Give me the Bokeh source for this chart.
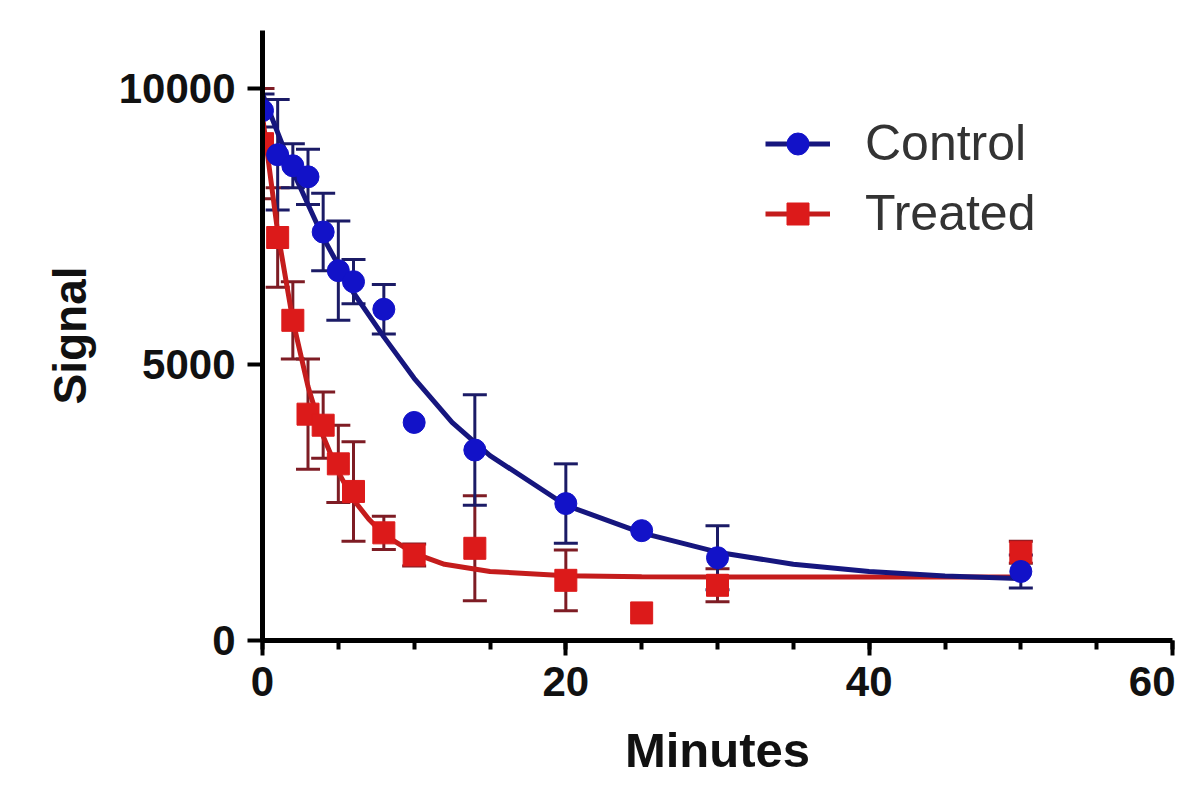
from bokeh.plotting import figure
from bokeh.models import (ColumnDataSource, Whisker, TeeHead, Legend, LegendItem,
                          SingleIntervalTicker, Range1d)
from bokeh.embed import file_html
from bokeh.resources import INLINE

# ---- data ----
minutes = [0, 1, 2, 3, 4, 5, 6, 8, 10, 14, 20, 25, 30, 50]
control_mean = [9600, 8800, 8600, 8400, 7400, 6700, 6500, 6000, 3950, 3450, 2480, 1990, 1500, 1250]
control_err = [300, 1000, 400, 500, 700, 900, 400, 450, 0, 1000, 720, 0, 580, 300]
treated_mean = [9000, 7300, 5800, 4100, 3900, 3200, 2700, 1950, 1550, 1670, 1090, 500, 1000, 1600]
treated_err = [1000, 900, 700, 1000, 600, 700, 900, 300, 200, 950, 550, 0, 300, 200]

control_fit_t = [0, 2, 4, 6, 8, 10, 12.5, 15, 20, 25, 30, 35, 40, 45, 50]
control_fit = [9900, 8500, 7300, 6300, 5500, 4750, 3950, 3350, 2450, 1950, 1600, 1380, 1250, 1170, 1120]
treated_fit_t = [0, 1, 2, 3, 4, 5, 6, 7, 8, 10, 12, 15, 20, 25, 30, 40, 50]
treated_fit = [9500, 7400, 5800, 4600, 3700, 3050, 2550, 2200, 1920, 1580, 1380, 1250, 1175, 1155, 1150, 1150, 1150]

x_label = "Minutes"
y_label = "Signal"
series_names = ["Control", "Treated"]

# ---- colours ----
C_LINE = "#16167e"
C_MARK = "#1212c8"
C_ERR = "#1b1b66"
T_LINE = "#c41c1c"
T_MARK = "#dc1a1a"
T_ERR = "#7e1c24"
FONT = "Liberation Sans"

p = figure(width=1175, height=780, output_backend="svg", toolbar_location=None,
           x_range=Range1d(0, 60), y_range=Range1d(0, 11050),
           min_border_left=262, min_border_right=3, min_border_top=30, min_border_bottom=140)
p.grid.visible = False
p.outline_line_color = None
p.background_fill_color = "white"
p.border_fill_color = "white"

# curves
t_line = p.line(treated_fit_t, treated_fit, line_color=T_LINE, line_width=5)
c_line = p.line(control_fit_t, control_fit, line_color=C_LINE, line_width=5)

def err_source(xs, ms, es):
    xx, up, lo = [], [], []
    for x, m, e in zip(xs, ms, es):
        if e > 0:
            xx.append(x); up.append(m + e); lo.append(m - e)
    return ColumnDataSource(dict(x=xx, upper=up, lower=lo))

for xs, ms, es, col in [(minutes, treated_mean, treated_err, T_ERR),
                        (minutes, control_mean, control_err, C_ERR)]:
    w = Whisker(source=err_source(xs, ms, es), base="x", upper="upper", lower="lower",
                dimension="height", line_color=col, line_width=3,
                upper_head=TeeHead(size=24, line_color=col, line_width=3),
                lower_head=TeeHead(size=24, line_color=col, line_width=3))
    p.add_layout(w)

t_pts = p.scatter(minutes, treated_mean, marker="square", size=22,
                  fill_color=T_MARK, line_color=T_MARK)
c_pts = p.scatter(minutes, control_mean, marker="circle", size=22,
                  fill_color=C_MARK, line_color=C_MARK)

# axes
xa = p.xaxis[0]
xa.ticker = SingleIntervalTicker(interval=20, num_minor_ticks=4)
ya = p.yaxis[0]
ya.ticker = SingleIntervalTicker(interval=5000, num_minor_ticks=0)
for ax in (xa, ya):
    ax.axis_line_width = 5
    ax.axis_line_color = "#000000"
    ax.major_tick_line_width = 4
    ax.major_tick_line_color = "#000000"
    ax.major_tick_out = 15
    ax.major_tick_in = 0
    ax.minor_tick_line_width = 4
    ax.minor_tick_line_color = "#000000"
    ax.minor_tick_out = 9
    ax.minor_tick_in = 0
    ax.major_label_text_font = FONT
    ax.major_label_text_font_size = "42px"
    ax.major_label_text_font_style = "bold"
    ax.major_label_text_color = "#111111"
    ax.axis_label_text_font = FONT
    ax.axis_label_text_font_style = "bold"
    ax.axis_label_text_color = "#111111"
xa.axis_label = x_label
ya.axis_label = y_label
xa.axis_label_text_font_size = "49px"
ya.axis_label_text_font_size = "46px"
xa.major_label_standoff = 11
ya.major_label_standoff = 12
xa.axis_label_standoff = 24
ya.axis_label_standoff = 20

legend = Legend(items=[LegendItem(label=series_names[0], renderers=[c_line, c_pts]),
                       LegendItem(label=series_names[1], renderers=[t_line, t_pts])],
                location=(503, 398), glyph_width=65, glyph_height=55, label_height=55,
                spacing=12, padding=5, margin=0, label_standoff=35,
                label_text_font=FONT, label_text_font_size="50px", label_text_color="#333333",
                border_line_color=None, background_fill_alpha=0)
p.add_layout(legend)

open("out.html", "w").write(file_html(p, INLINE))
